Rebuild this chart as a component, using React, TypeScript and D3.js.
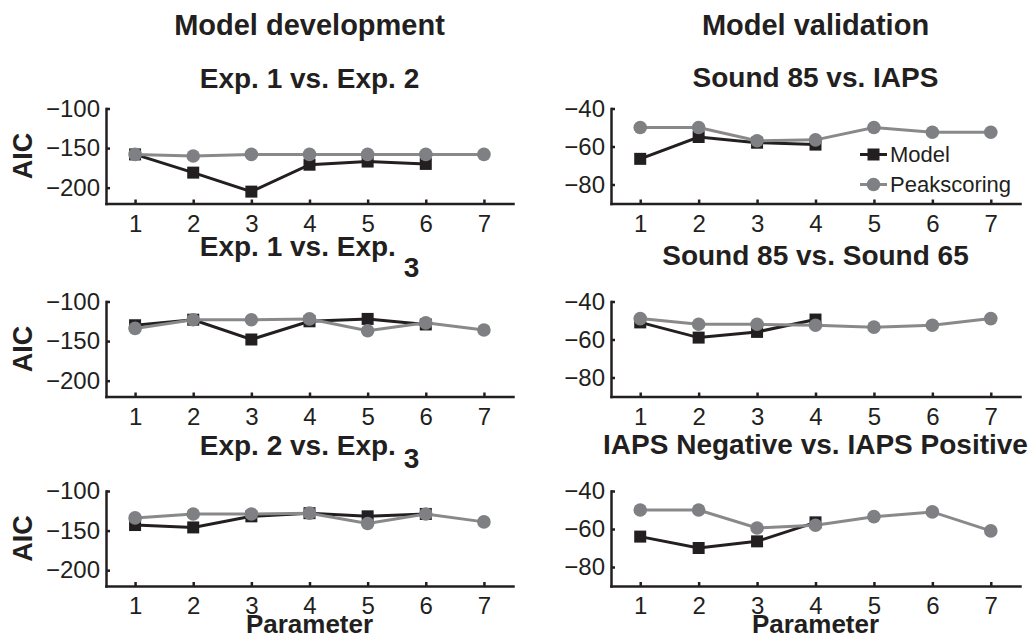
import React, { useEffect, useRef } from "react";
import * as d3 from "d3";

// parameter index on the x axis
const params = [1, 2, 3, 4, 5, 6, 7];

// Model development (left column)
const exp12Model = [-158, -181, -205, -171, -167, -170];
const exp12Peak = [-158, -160, -158, -158, -158, -158, -158];
const exp13Model = [-130, -123, -148, -125, -122, -129];
const exp13Peak = [-134, -123, -123, -122, -137, -127, -136];
const exp23Model = [-143, -146, -132, -128, -132, -129];
const exp23Peak = [-134, -129, -129, -128, -141, -129, -139];

// Model validation (right column)
const iapsModel = [-66.5, -55, -58, -59];
const iapsPeak = [-50, -50, -57, -56.5, -50, -52.5, -52.5];
const soundModel = [-51, -59, -56, -49.5];
const soundPeak = [-49, -52, -52, -52.5, -53.5, -52.5, -49];
const negPosModel = [-64, -70, -66.5, -56.5];
const negPosPeak = [-50, -50, -59.5, -58, -53.5, -51, -61];

const devTicks = [-200, -150, -100];
const valTicks = [-80, -60, -40];

const FONT = "'Liberation Sans', Arial, Helvetica, sans-serif";
const INK = "#231f20";
const GRAY_LINE = "#898989";
const GRAY_MARK = "#7f8083";

const Panel = ({ left, top, model, peak, domain, ticks, ylabel, xlabel, legend }) => {
  const gRef = useRef();
  const width = left < 300 ? 407 : 409;
  const height = 95;

  useEffect(() => {
    const g = d3.select(gRef.current);
    g.selectAll("*").remove();

    const x = d3.scaleLinear().domain([0.5, 7.5]).range([0, width]);
    const y = d3.scaleLinear().domain(domain).range([height, 0]);

    const xAxis = d3.axisBottom(x).tickValues(params).tickFormat(d3.format("d"))
      .tickSize(-4).tickSizeOuter(0).tickPadding(11);
    const yAxis = d3.axisLeft(y).tickValues(ticks)
      .tickFormat((d) => String(d).replace("-", "\u2212"))
      .tickSize(-4).tickSizeOuter(0).tickPadding(6);

    const ax = g.append("g").attr("transform", `translate(0,${height})`).call(xAxis);
    const ay = g.append("g").call(yAxis);
    [ax, ay].forEach((a) => {
      a.selectAll("path, line").attr("stroke", INK).attr("stroke-width", 2.5);
      a.select(".domain").attr("stroke-linecap", "square");
      a.selectAll("text").attr("fill", INK).attr("font-size", 24).attr("font-family", FONT);
    });

    const line = d3.line().x((d, i) => x(params[i])).y((d) => y(d));

    g.append("path").attr("d", line(model)).attr("fill", "none")
      .attr("stroke", INK).attr("stroke-width", 3);
    g.selectAll(".sq").data(model).join("rect").attr("class", "sq")
      .attr("x", (d, i) => x(params[i]) - 6).attr("y", (d) => y(d) - 6)
      .attr("width", 12).attr("height", 12).attr("fill", INK);

    g.append("path").attr("d", line(peak)).attr("fill", "none")
      .attr("stroke", GRAY_LINE).attr("stroke-width", 3);
    g.selectAll(".ci").data(peak).join("circle").attr("class", "ci")
      .attr("cx", (d, i) => x(params[i])).attr("cy", (d) => y(d))
      .attr("r", 6.8).attr("fill", GRAY_MARK);

    if (ylabel) {
      g.append("text").attr("transform", `translate(-74,${height / 2}) rotate(-90)`)
        .attr("text-anchor", "middle").attr("font-size", 27).attr("font-weight", "bold")
        .attr("font-family", FONT).attr("fill", INK).text(ylabel);
    }
    if (xlabel) {
      g.append("text").attr("x", width / 2).attr("y", height + 47)
        .attr("text-anchor", "middle").attr("font-size", 26).attr("font-weight", "bold")
        .attr("font-family", FONT).attr("fill", INK).text(xlabel);
    }
    if (legend) {
      const rows = [
        { name: "Model", color: INK, shape: "square" },
        { name: "Peakscoring", color: GRAY_LINE, shape: "circle" },
      ];
      const lg = g.append("g").attr("transform", `translate(${249},${46})`);
      rows.forEach((r, i) => {
        const row = lg.append("g").attr("transform", `translate(0,${i * 30})`);
        row.append("line").attr("x1", 0).attr("x2", 27).attr("stroke", r.color).attr("stroke-width", 3);
        if (r.shape === "square") {
          row.append("rect").attr("x", 7.5).attr("y", -6).attr("width", 12).attr("height", 12).attr("fill", INK);
        } else {
          row.append("circle").attr("cx", 13.5).attr("r", 6.8).attr("fill", GRAY_MARK);
        }
        row.append("text").attr("x", 30).attr("dy", "0.35em").attr("font-size", 22)
          .attr("font-family", FONT).attr("fill", INK).text(r.name);
      });
    }
  });

  return <g ref={gRef} transform={`translate(${left},${top})`} />;
};

const Title = ({ x, y, size, children }) => (
  <text x={x} y={y} textAnchor="middle" fontSize={size} fontWeight="bold" fontFamily={FONT} fill={INK}>
    {children}
  </text>
);

export default function App() {
  const lx = 106;
  const rx = 611;
  const lc = lx + 407 / 2;
  const rc = rx + 409 / 2;
  const tops = [108.5, 301.5, 491];
  return (
    <svg width={1035} height={639} style={{ position: "absolute", left: 0, top: 0, background: "#fff" }}>
      <Title x={lc} y={35} size={29}>Model development</Title>
      <Title x={rc} y={35} size={29}>Model validation</Title>

      <Title x={lc} y={88} size={28}>Exp. 1 vs. Exp. 2</Title>
      <Title x={lc} y={256} size={28}>
        {"Exp. 1 vs. Exp. "}<tspan dy={21}>3</tspan>
      </Title>
      <Title x={lc} y={455} size={28}>
        {"Exp. 2 vs. Exp. "}<tspan dy={13}>3</tspan>
      </Title>

      <Title x={rc} y={87} size={28}>Sound 85 vs. IAPS</Title>
      <Title x={rc} y={265} size={28}>Sound 85 vs. Sound 65</Title>
      <Title x={rc} y={454} size={28}>IAPS Negative vs. IAPS Positive</Title>

      <Panel left={lx} top={tops[0]} model={exp12Model} peak={exp12Peak} domain={[-220, -100]} ticks={devTicks} ylabel="AIC" />
      <Panel left={lx} top={tops[1]} model={exp13Model} peak={exp13Peak} domain={[-220, -100]} ticks={devTicks} ylabel="AIC" />
      <Panel left={lx} top={tops[2]} model={exp23Model} peak={exp23Peak} domain={[-220, -100]} ticks={devTicks} ylabel="AIC" xlabel="Parameter" />

      <Panel left={rx} top={tops[0]} model={iapsModel} peak={iapsPeak} domain={[-90, -40]} ticks={valTicks} legend />
      <Panel left={rx} top={tops[1]} model={soundModel} peak={soundPeak} domain={[-90, -40]} ticks={valTicks} />
      <Panel left={rx} top={tops[2]} model={negPosModel} peak={negPosPeak} domain={[-90, -40]} ticks={valTicks} xlabel="Parameter" />
    </svg>
  );
}
